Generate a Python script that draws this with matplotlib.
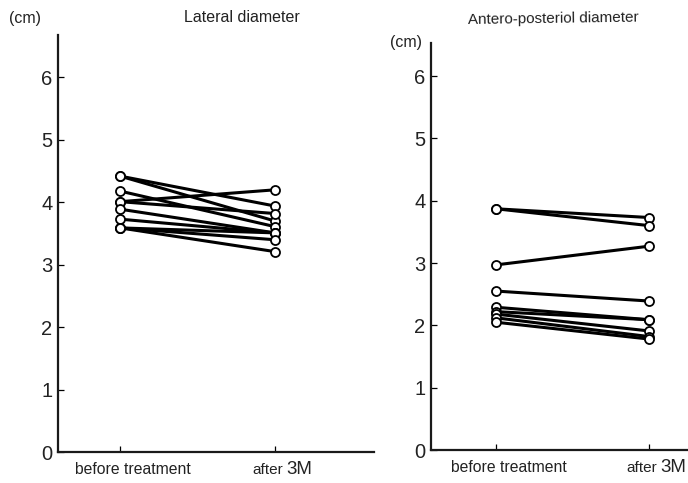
import matplotlib
matplotlib.use("Agg")
import matplotlib.pyplot as plt
import matplotlib.transforms as mtransforms

plt.rcParams['font.family'] = ['Liberation Sans', 'DejaVu Sans']

# ---- data ----
categories = ["before treatment", "after 3M"]
yticks = [0, 1, 2, 3, 4, 5, 6]

lat_before = [4.42, 4.42, 4.18, 4.01, 4.01, 3.89, 3.73, 3.59, 3.59, 3.59]
lat_after = [3.94, 3.70, 3.61, 4.20, 3.82, 3.51, 3.51, 3.51, 3.40, 3.21]

ap_before = [3.87, 3.87, 2.97, 2.55, 2.29, 2.22, 2.18, 2.12, 2.05]
ap_after = [3.73, 3.60, 3.27, 2.39, 2.09, 2.09, 1.91, 1.82, 1.78]

titles = ["Lateral diameter", "Antero-posteriol diameter"]
unit = "(cm)"

W, H = 688, 483
fig = plt.figure(figsize=(W / 100, H / 100), dpi=100)
TXT = '#222222'


def px_axes(x0, x1, y_bottom, y_top):
    return fig.add_axes([x0 / W, 1 - y_bottom / H, (x1 - x0) / W, (y_bottom - y_top) / H])


ax1 = px_axes(58, 374, 452, 35)
ax1.set_xlim(-0.40, 1.639)
ax1.set_ylim(0, 6.68)

ax2 = px_axes(431, 700, 450, 43)
ax2.set_xlim(-0.425, 1.333)
ax2.set_ylim(0, 6.53)

xs = list(range(len(categories)))

for ax, before, after in [(ax1, lat_before, lat_after), (ax2, ap_before, ap_after)]:
    for b, a in zip(before, after):
        ax.plot(xs, [b, a], color='black', lw=2.2, marker='o', ms=6.5,
                mfc='white', mec='black', mew=1.3, solid_capstyle='round', zorder=3,
                clip_on=False)
    for s in ['top', 'right']:
        ax.spines[s].set_visible(False)
    for s in ['left', 'bottom']:
        ax.spines[s].set_linewidth(1.6)
        ax.spines[s].set_color('#1a1a1a')
    ax.set_yticks(yticks)
    ax.set_yticklabels([str(t) for t in yticks], fontsize=14.5, color=TXT)
    ax.tick_params(axis='y', direction='in', length=4, width=0.9, pad=4)
    ax.set_xticks(xs)
    ax.set_xticklabels([])
    ax.tick_params(axis='x', direction='in', length=4, width=0.9)
    # category labels
    for x, lab in zip(xs, categories):
        parts = lab.rsplit(' ', 1)
        if parts[-1][0].isdigit():
            tr1 = ax.get_xaxis_transform() + mtransforms.ScaledTranslation(8 / 100, -18 / 100, fig.dpi_scale_trans)
            ax.text(x, 0, parts[0], transform=tr1, ha='right', va='center', fontsize=11, color=TXT)
            tr2 = ax.get_xaxis_transform() + mtransforms.ScaledTranslation(11 / 100, -17.5 / 100, fig.dpi_scale_trans)
            ax.text(x, 0, parts[1], transform=tr2, ha='left', va='center', fontsize=13.5, color=TXT)
        else:
            tr = ax.get_xaxis_transform() + mtransforms.ScaledTranslation(13 / 100, -18 / 100, fig.dpi_scale_trans)
            ax.text(x, 0, lab, transform=tr, ha='center', va='center', fontsize=11.3, color=TXT)

fig.text(242 / W, 1 - 17 / H, titles[0], ha='center', va='center', fontsize=11.5, color=TXT)
fig.text(553 / W, 1 - 19 / H, titles[1], ha='center', va='center', fontsize=11, color=TXT, rotation=0.8)
fig.text(25 / W, 1 - 18 / H, unit, ha='center', va='center', fontsize=11.5, color=TXT)
fig.text(406 / W, 1 - 43 / H, unit, ha='center', va='center', fontsize=11.5, color=TXT)

fig.savefig("out.png", dpi=100)
